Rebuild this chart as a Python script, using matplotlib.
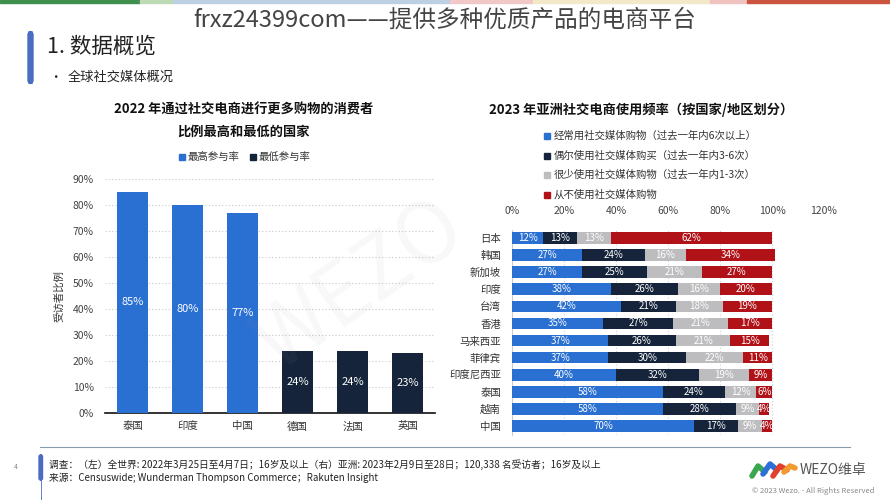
import numpy as np
import matplotlib
matplotlib.use('Agg')
import matplotlib.pyplot as plt
from matplotlib.patches import Rectangle, FancyBboxPatch

plt.rcParams['font.family'] = ['Noto Sans CJK SC', 'DejaVu Sans']

# left chart data
left_countries = ['泰国', '印度', '中国', '德国', '法国', '英国']
left_values = [85, 80, 77, 24, 24, 23]
left_is_high = [True, True, True, False, False, False]
left_yticks = [0, 10, 20, 30, 40, 50, 60, 70, 80, 90]

# right chart data
regions = ['日本', '韩国', '新加坡', '印度', '台湾', '香港', '马来西亚',
           '菲律宾', '印度尼西亚', '泰国', '越南', '中国']
often = [12, 27, 27, 38, 42, 35, 37, 37, 40, 58, 58, 70]
sometimes = [13, 24, 25, 26, 21, 27, 26, 30, 32, 24, 28, 17]
rarely = [13, 16, 21, 16, 18, 21, 21, 22, 19, 12, 9, 9]
never = [62, 34, 27, 20, 19, 17, 15, 11, 9, 6, 4, 4]
series_names = ['经常用社交媒体购物（过去一年内6次以上）',
                '偶尔使用社交媒体购买（过去一年内3-6次）',
                '很少使用社交媒体购物（过去一年内1-3次）',
                '从不使用社交媒体购物']
right_xticks = [0, 20, 40, 60, 80, 100, 120]

BLUE = '#2a6fd2'
NAVY = '#15243a'
GREY = '#bdbdc0'
RED = '#b01218'
W, H = 890, 500


def fx(x):
    return x / W


def fy(y):
    return 1 - y / H


fig = plt.figure(figsize=(8.9, 5.0), dpi=100)
fig.patch.set_facecolor('white')

# top colour stripe
stripes = [(0, 140, '#3f8f4f'), (140, 173, '#bcdab4'), (173, 450, '#bdd0e3'),
           (450, 533, '#f0c8c8'), (533, 710, '#f3e8c8'), (710, 747, '#efc4c0'),
           (747, 890, '#c9553f')]
for x0, x1, c in stripes:
    fig.patches.append(Rectangle((fx(x0), fy(3)), fx(x1 - x0), 3 / H,
                                 transform=fig.transFigure, color=c, zorder=0))

fig.text(fx(445), fy(20), 'frxz24399com——提供多种优质产品的电商平台',
         ha='center', va='center', fontsize=17, color='#444444', fontweight='light')

# header
fig.patches.append(FancyBboxPatch((fx(28), fy(83)), fx(5), 51 / H,
                                  boxstyle='round,pad=0,rounding_size=0.005',
                                  transform=fig.transFigure, color='#4a6dc2'))
fig.text(fx(47), fy(47), '1. 数据概览', ha='left', va='center', fontsize=15.5, color='#222222')
fig.text(fx(49), fy(77), '•', ha='left', va='center', fontsize=9, color='#222222')
fig.text(fx(68), fy(77), '全球社交媒体概况', ha='left', va='center', fontsize=9.5, color='#222222')

# big watermark
fig.text(fx(360), fy(285), 'WEZO', ha='center', va='center', fontsize=60,
         color='#999999', alpha=0.07, rotation=35)

# ---------- left chart ----------
axL = fig.add_axes([fx(105), fy(413), fx(330), (413 - 179) / H])
colors_left = [BLUE if h else NAVY for h in left_is_high]
xs = np.arange(len(left_countries))
axL.bar(xs, left_values, width=0.56, color=colors_left, zorder=3)
for x, v in zip(xs, left_values):
    axL.text(x, v / 2, f'{v}%', ha='center', va='center', color='white', fontsize=8, zorder=4)
axL.set_xlim(-0.5, 5.5)
axL.set_ylim(0, 90)
axL.set_yticks(left_yticks)
axL.set_yticklabels([f'{t}%' for t in left_yticks], fontsize=7.5, color='#444444')
axL.set_xticks(xs)
axL.set_xticklabels(left_countries, fontsize=7.5, color='#333333')
axL.tick_params(length=0, pad=8)
axL.tick_params(axis='x', pad=6)
axL.yaxis.grid(True, linestyle=(0, (1, 2)), color='#c8c8c8', linewidth=0.8, zorder=0)
for s in ['top', 'right', 'left']:
    axL.spines[s].set_visible(False)
axL.spines['bottom'].set_color('#111111')
axL.spines['bottom'].set_linewidth(1.2)
axL.set_ylabel('受访者比例', fontsize=7.5, color='#333333', labelpad=6)

fig.text(fx(244), fy(110), '2022 年通过社交电商进行更多购物的消费者',
         ha='center', va='center', fontsize=9.5, fontweight='bold', color='#111111')
fig.text(fx(244), fy(132), '比例最高和最低的国家',
         ha='center', va='center', fontsize=9.5, fontweight='bold', color='#111111')
for sx, c, lab in [(182, BLUE, '最高参与率'), (253, NAVY, '最低参与率')]:
    fig.patches.append(Rectangle((fx(sx - 3), fy(160)), fx(6), 6 / H,
                                 transform=fig.transFigure, color=c))
    fig.text(fx(sx + 6), fy(157), lab, ha='left', va='center', fontsize=7.5, color='#333333')

# ---------- right chart ----------
axR = fig.add_axes([fx(512), fy(434.5), fx(312), (434.5 - 229.5) / H])
ys = np.arange(len(regions))
left_acc = np.zeros(len(regions))
series = [often, sometimes, rarely, never]
colors_right = [BLUE, NAVY, GREY, RED]
for vals, c in zip(series, colors_right):
    vals = np.array(vals)
    axR.barh(ys, vals, left=left_acc, height=0.68, color=c, zorder=3)
    for y, l, v in zip(ys, left_acc, vals):
        axR.text(l + v / 2, y, f'{v}%', ha='center', va='center', color='white',
                 fontsize=7, zorder=4)
    left_acc = left_acc + vals
axR.set_xlim(0, 120)
axR.set_ylim(len(regions) - 0.5, -0.5)
axR.set_xticks(right_xticks)
axR.set_xticklabels([f'{t}%' for t in right_xticks], fontsize=7.5, color='#444444')
axR.xaxis.tick_top()
axR.set_yticks(ys)
axR.set_yticklabels(regions, fontsize=7.5, color='#333333')
axR.tick_params(length=0)
axR.tick_params(axis='x', pad=10)
axR.tick_params(axis='y', pad=8)
axR.xaxis.grid(True, linestyle=(0, (1, 2)), color='#d0d0d0', linewidth=0.8, zorder=0)
for s in ['top', 'right', 'bottom']:
    axR.spines[s].set_visible(False)
axR.spines['left'].set_color('#cccccc')

fig.text(fx(641), fy(110), '2023 年亚洲社交电商使用频率（按国家/地区划分）',
         ha='center', va='center', fontsize=9.5, fontweight='bold', color='#111111')
for i, (lab, c) in enumerate(zip(series_names, colors_right)):
    yy = 136 + i * 19.5
    fig.patches.append(Rectangle((fx(544), fy(yy + 3)), fx(6), 6 / H,
                                 transform=fig.transFigure, color=c))
    fig.text(fx(554), fy(yy), lab, ha='left', va='center', fontsize=7.5, color='#333333')

# ---------- footer ----------
fig.lines.append(plt.Line2D([fx(40), fx(850)], [fy(447), fy(447)],
                            transform=fig.transFigure, color='#8a9bb0', linewidth=0.8))
fig.patches.append(FancyBboxPatch((fx(39), fy(480)), fx(3.5), 25 / H,
                                  boxstyle='round,pad=0,rounding_size=0.003',
                                  transform=fig.transFigure, color='#4a6dc2'))
fig.lines.append(plt.Line2D([fx(40.5), fx(40.5)], [fy(480), fy(500)],
                            transform=fig.transFigure, color='#4a6dc2', linewidth=0.6))
fig.text(fx(16), fy(467), '4', ha='center', va='center', fontsize=5, color='#888888')
fig.text(fx(49), fy(465),
         '调查：（左）全世界: 2022年3月25日至4月7日；16岁及以上（右）亚洲: 2023年2月9日至28日；120,338 名受访者；16岁及以上',
         ha='left', va='center', fontsize=7, color='#222222')
fig.text(fx(49), fy(478), '来源：Censuswide; Wunderman Thompson Commerce；Rakuten Insight',
         ha='left', va='center', fontsize=7, color='#222222')

# logo
logo_strokes = [([752, 758, 765], [476, 466, 472], '#3aa651'),
                ([763, 770, 777], [474, 464, 470], '#2c6fd6'),
                ([773, 780, 787], [476, 466, 470], '#e0412c'),
                ([784, 790, 795], [472, 466, 468], '#f29a2e')]
for xs_l, ys_l, c in logo_strokes:
    fig.lines.append(plt.Line2D([fx(v) for v in xs_l], [fy(v) for v in ys_l],
                                transform=fig.transFigure, color=c, linewidth=4,
                                solid_capstyle='round'))
fig.text(fx(800), fy(470), 'WEZO维卓', ha='left', va='center', fontsize=10, color='#555555')
fig.text(fx(875), fy(491), '© 2023 Wezo. - All Rights Reserved', ha='right', va='center',
         fontsize=5.5, color='#888888')

fig.savefig('out.png', dpi=100, facecolor='white')
